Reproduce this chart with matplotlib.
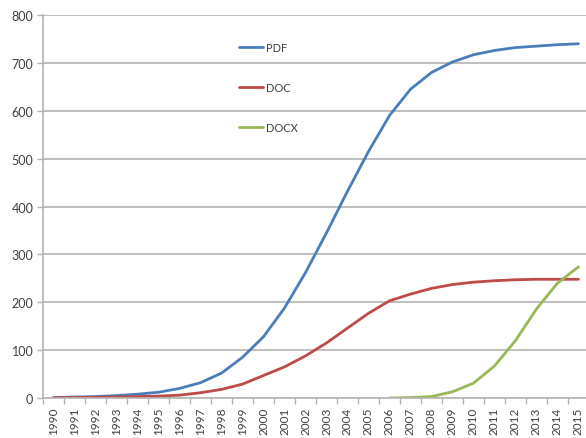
import numpy as np
import matplotlib.pyplot as plt

plt.rcParams['font.family'] = ['Lato', 'DejaVu Sans']

years = list(range(1990, 2016))

pdf = [1, 2, 3, 5, 8, 12, 20, 32, 52, 85, 128, 188, 262, 345, 432, 515,
       590, 645, 680, 702, 717, 726, 732, 735, 738, 740]
doc = [0.5, 1, 1.5, 2, 3, 4, 6, 11, 18, 29, 47, 65, 88, 115, 146, 177,
       203, 217, 229, 237, 242, 245, 247, 248, 248, 248]
# DOCX only exists from 2006 on
docx = [np.nan] * 16 + [0, 1, 3, 13, 31, 67, 120, 186, 240, 274]

colors = {'PDF': '#4A7EBB', 'DOC': '#BE4B48', 'DOCX': '#98B954'}
grid_c = '#b4b4b4'
text_c = '#404040'

fig = plt.figure(figsize=(5.86, 4.39), dpi=100)
ax = fig.add_axes([0.0734, 0.0911, 0.9317, 0.8724])

x = np.arange(len(years))
ax.plot(x, pdf, color=colors['PDF'], lw=2.0, label='PDF', solid_capstyle='round')
ax.plot(x, doc, color=colors['DOC'], lw=2.0, label='DOC', solid_capstyle='round')
ax.plot(x, docx, color=colors['DOCX'], lw=2.0, label='DOCX', solid_capstyle='round')

ax.set_xlim(-0.5, len(years) - 0.5)
ax.set_ylim(0, 800)
ax.set_yticks(range(0, 801, 100))
ax.yaxis.grid(True, color=grid_c, lw=1.2)
ax.set_axisbelow(True)

# labels at category centres, tick marks on the boundaries
ax.set_xticks(x)
ax.set_xticklabels([str(y) for y in years], rotation=90)
ax.set_xticks(np.arange(-0.5, len(years)), minor=True)
ax.tick_params(axis='x', which='major', length=0, pad=6, labelsize=8.5, labelcolor=text_c)
ax.tick_params(axis='x', which='minor', length=4, color=grid_c, width=1)
ax.tick_params(axis='y', length=4, color=grid_c, width=1, labelsize=9, labelcolor=text_c, pad=3)

for side in ['top', 'right']:
    ax.spines[side].set_visible(False)
for side in ['left', 'bottom']:
    ax.spines[side].set_color(grid_c)
    ax.spines[side].set_linewidth(1.2)

ax.legend(loc='upper left', bbox_to_anchor=(0.34, 0.955), frameon=False,
          handlelength=2.2, handletextpad=0.3, labelspacing=2.6, fontsize=8,
          labelcolor=text_c)

fig.savefig('out.png', dpi=100)
